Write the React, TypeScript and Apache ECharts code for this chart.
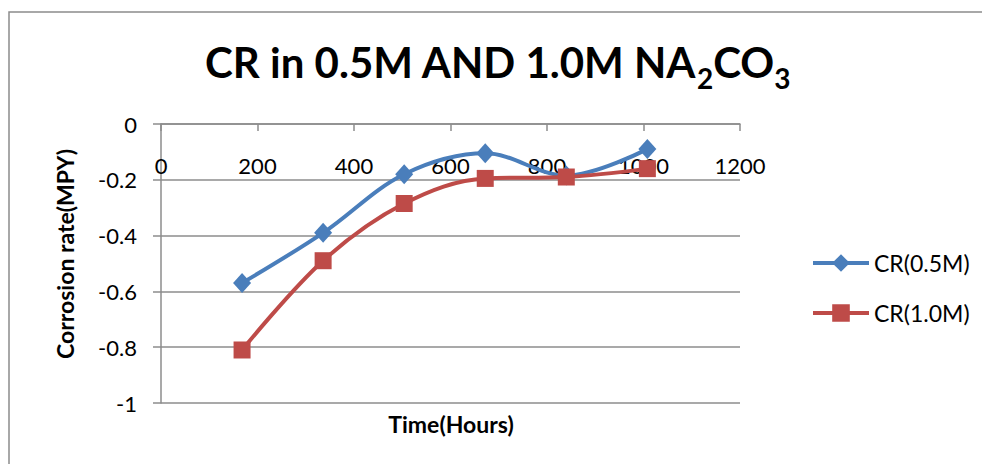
import React, { useEffect, useRef } from "react";
import * as echarts from "echarts";

const hours = [168, 336, 504, 672, 840, 1008];
const cr05 = [-0.57, -0.39, -0.18, -0.105, -0.185, -0.09];
const cr10 = [-0.81, -0.49, -0.285, -0.195, -0.19, -0.16];
const seriesNames = ["CR(0.5M)", "CR(1.0M)"];
const xTitle = "Time(Hours)";
const yTitle = "Corrosion rate(MPY)";
const blue = "#4A7EBB";
const red = "#BE4B48";

const FONT = "Lato, 'Noto Sans', sans-serif";

export default function App() {
  const ref = useRef<HTMLDivElement>(null);
  useEffect(() => {
    if (!ref.current) return;
    const chart = echarts.init(ref.current, null, { renderer: "svg" });
    chart.setOption({
      animation: false,
      backgroundColor: "#ffffff",
      textStyle: { fontFamily: FONT, color: "#000" },
      title: {
        text: "CR in 0.5M AND 1.0M NA{sub|2}CO{sub|3}",
        left: 205,
        top: 32,
        padding: 0,
        textStyle: {
          fontFamily: FONT,
          fontWeight: "bold",
          fontSize: 42,
          lineHeight: 60,
          color: "#000",
          rich: {
            sub: {
              fontFamily: FONT,
              fontWeight: "bold",
              fontSize: 28,
              lineHeight: 24,
              verticalAlign: "bottom",
              color: "#000",
            },
          },
        },
      },
      graphic: [
        {
          type: "rect",
          shape: { x: 9, y: 12, width: 1000, height: 500 },
          style: { fill: "none", stroke: "#8c8c8c", lineWidth: 1.5 },
          silent: true,
          z: -1,
        },
        {
          type: "text",
          x: 451,
          y: 424,
          style: {
            text: xTitle,
            fontFamily: FONT,
            fontWeight: "bold",
            fontSize: 23,
            fill: "#000",
            textAlign: "center",
            textVerticalAlign: "middle",
          },
        },
        {
          type: "text",
          x: 65,
          y: 254,
          rotation: Math.PI / 2,
          style: {
            text: yTitle,
            fontFamily: FONT,
            fontWeight: "bold",
            fontSize: 23,
            fill: "#000",
            textAlign: "center",
            textVerticalAlign: "middle",
          },
        },
      ],
      legend: {
        orient: "vertical",
        left: 806,
        top: 246,
        itemWidth: 56,
        itemHeight: 22,
        itemGap: 26,
        textStyle: { fontFamily: FONT, fontSize: 23, lineHeight: 24, color: "#000" },
        data: [
          { name: seriesNames[0], lineStyle: { width: 4 } },
          { name: seriesNames[1], lineStyle: { width: 4 } },
        ],
      },
      grid: { left: 161, right: 242, top: 124, bottom: 61 },
      xAxis: {
        type: "value",
        position: "top",
        min: 0,
        max: 1200,
        interval: 200,
        axisLine: { show: true, lineStyle: { color: "#8c8c8c", width: 1.5 } },
        axisTick: { show: true, inside: true, length: 7, lineStyle: { color: "#8c8c8c", width: 1.5 } },
        axisLabel: {
          inside: true,
          margin: 30,
          fontFamily: FONT,
          fontSize: 22,
          color: "#000",
          formatter: (v: number) => String(v),
        },
        splitLine: { show: false },
      },
      yAxis: {
        type: "value",
        min: -1,
        max: 0,
        interval: 0.2,
        axisLine: { show: true, lineStyle: { color: "#8c8c8c", width: 1.5 } },
        axisTick: { show: true, length: 8, lineStyle: { color: "#8c8c8c", width: 1.5 } },
        axisLabel: {
          margin: 24,
          fontFamily: FONT,
          fontSize: 22,
          color: "#000",
          formatter: (v: number) => String(Math.round(v * 10) / 10),
        },
        splitLine: { show: true, lineStyle: { color: "#8c8c8c", width: 1.5 } },
      },
      series: [
        {
          name: seriesNames[0],
          type: "line",
          smooth: 0.35,
          data: hours.map((h, i) => [h, cr05[i]]),
          symbol: "diamond",
          symbolSize: [18, 20],
          lineStyle: { color: blue, width: 4 },
          itemStyle: { color: blue },
          z: 2,
        },
        {
          name: seriesNames[1],
          type: "line",
          smooth: 0.35,
          data: hours.map((h, i) => [h, cr10[i]]),
          symbol: "rect",
          symbolSize: 17,
          lineStyle: { color: red, width: 4 },
          itemStyle: { color: red },
          z: 3,
        },
      ],
    });
    return () => chart.dispose();
  }, []);
  return (
    <div style={{ position: "fixed", left: 0, top: 0, width: 982, height: 464 }}>
      <div ref={ref} style={{ width: 982, height: 464 }} />
    </div>
  );
}
